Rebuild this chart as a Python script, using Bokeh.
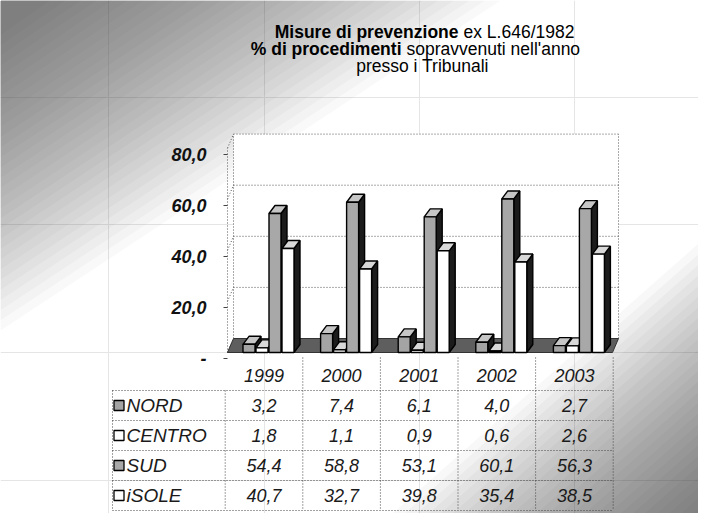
from bokeh.plotting import figure
from bokeh.models import Range1d, LinearAxis, FixedTicker, CustomJSTickFormatter
from bokeh.core.properties import value
from bokeh.embed import file_html
from bokeh.resources import INLINE

# ---------------- data ----------------
YEARS = ["1999", "2000", "2001", "2002", "2003"]
SERIES = ["NORD", "CENTRO", "SUD", "iSOLE"]
NORD = [3.2, 7.4, 6.1, 4.0, 2.7]
CENTRO = [1.8, 1.1, 0.9, 0.6, 2.6]
SUD = [54.4, 58.8, 53.1, 60.1, 56.3]
ISOLE = [40.7, 32.7, 39.8, 35.4, 38.5]
Y_TICKS = [0, 20, 40, 60, 80]
TITLE_BOLD = ["Misure di prevenzione", "% di procedimenti"]
TITLE_NORMAL = ["ex L.646/1982", "sopravvenuti nell'anno"]
TITLE_LAST = "presso i Tribunali"

SERIES_VALUES = [NORD, CENTRO, SUD, ISOLE]

# ---------------- styling / layout ----------------
FONT = "Liberation Sans"
FRONT_COLORS = ["#a4a4a4", "#ffffff", "#a8a8a8", "#ffffff"]
TOP_COLORS = ["#c6c6c6", "#d8d8d8", "#c6c6c6", "#d8d8d8"]
SIDE_COLOR = "#1c1c1c"

W, H = 698, 513
PAGE = 0
COL_PX = 77.6
COL0 = 263.5
ZERO_PX = 352.0
UNIT_PX = 2.555

X_START = (PAGE - COL0) / COL_PX
X_END = X_START + W / COL_PX
Y_END = (ZERO_PX - PAGE) / UNIT_PX
Y_START = Y_END - H / UNIT_PX

LAB_ZERO, LAB_UNIT = 358.0, 2.55
LAB_END = (LAB_ZERO - PAGE) / LAB_UNIT
LAB_START = LAB_END - H / LAB_UNIT

ROW0, ROW_PX = 375.0, 30.0
TBL_END = (ROW0 - PAGE) / ROW_PX
TBL_START = TBL_END - H / ROW_PX


def dx(px):
    return (px - COL0) / COL_PX


def dy(py):
    return (ZERO_PX - py) / UNIT_PX


def trow(py):
    return (ROW0 - py) / ROW_PX


BAR_OFF = [-15 / COL_PX, -2 / COL_PX, 11 / COL_PX, 24 / COL_PX]
BAR_W = 12 / COL_PX
BAR_DX = 6 / COL_PX
BAR_DY = 8 / UNIT_PX
FLOOR_L, FLOOR_R = dx(227), dx(612)
DEPTH_X, DEPTH_Y = 6 / COL_PX, 14 / UNIT_PX
Y_MAX = Y_TICKS[-1]
TXT = "18px"

p = figure(width=W, height=H, x_range=Range1d(X_START, X_END),
           y_range=Range1d(Y_START, Y_END), output_backend="svg",
           toolbar_location=None, tools="", x_axis_location=None,
           y_axis_location=None, min_border=0, outline_line_color=None,
           background_fill_color="white", border_fill_color="white")
p.extra_y_ranges = {"lab": Range1d(LAB_START, LAB_END),
                    "tbl": Range1d(TBL_START, TBL_END)}

# ---------------- background gradient (scan shading) ----------------
NL = 30
tl = [(50 + (500 - 50) * i / (NL - 1), 35 + (330 - 35) * i / (NL - 1)) for i in range(NL)]
p.patches([[dx(0), dx(a), dx(0)] for a, b in tl], [[dy(0), dy(0), dy(b)] for a, b in tl],
          fill_color="#303030", fill_alpha=0.032, line_color=None)
NB = 26
br = [(40 + (340 - 40) * i / (NB - 1), 35 + (300 - 35) * i / (NB - 1)) for i in range(NB)]
p.patches([[dx(714), dx(714), dx(714 - a)] for a, b in br],
          [[dy(529), dy(529 - b), dy(529)] for a, b in br],
          fill_color="#303030", fill_alpha=0.035, line_color=None)

# ---------------- 3D walls / floor ----------------
p.quad(left=[FLOOR_L + DEPTH_X], right=[FLOOR_R + DEPTH_X], bottom=[DEPTH_Y],
       top=[Y_MAX + DEPTH_Y], fill_color="white", line_color=None)
grid_t = Y_TICKS[1:]
p.segment(x0=[FLOOR_L + DEPTH_X] * len(grid_t), x1=[FLOOR_R + DEPTH_X] * len(grid_t),
          y0=[t + DEPTH_Y for t in grid_t], y1=[t + DEPTH_Y for t in grid_t],
          line_color="#555555", line_dash="1 2", line_width=1)
p.segment(x0=[FLOOR_L] * len(Y_TICKS), x1=[FLOOR_L + DEPTH_X] * len(Y_TICKS),
          y0=Y_TICKS, y1=[t + DEPTH_Y for t in Y_TICKS],
          line_color="#555555", line_dash="1 2", line_width=1)
p.segment(x0=[FLOOR_L + DEPTH_X, FLOOR_R + DEPTH_X, FLOOR_L],
          x1=[FLOOR_L + DEPTH_X, FLOOR_R + DEPTH_X, FLOOR_L],
          y0=[DEPTH_Y, DEPTH_Y, 0], y1=[Y_MAX + DEPTH_Y, Y_MAX + DEPTH_Y, Y_MAX],
          line_color="#555555", line_dash="1 2", line_width=1)
p.patch([FLOOR_L, FLOOR_R, FLOOR_R + DEPTH_X, FLOOR_L + DEPTH_X],
        [0, 0, DEPTH_Y, DEPTH_Y], fill_color="#5e5e5e", line_color="#333333", line_width=1)

# ---------------- 3D bars ----------------
for k, vals in enumerate(SERIES_VALUES):
    xl = [i + BAR_OFF[k] - BAR_W / 2 for i in range(len(YEARS))]
    xr = [x + BAR_W for x in xl]
    side_x = [[r, r + BAR_DX, r + BAR_DX, r] for r in xr]
    side_y = [[0, BAR_DY, v + BAR_DY, v] for v in vals]
    top_x = [[l, r, r + BAR_DX, l + BAR_DX] for l, r in zip(xl, xr)]
    top_y = [[v, v, v + BAR_DY, v + BAR_DY] for v in vals]
    p.patches(side_x, side_y, fill_color=SIDE_COLOR, line_color="black", line_width=1.4)
    p.patches(top_x, top_y, fill_color=TOP_COLORS[k], line_color="black", line_width=1.4)
    p.quad(left=xl, right=xr, bottom=[0] * len(vals), top=vals,
           fill_color=FRONT_COLORS[k], line_color="black", line_width=1.4)

# ---------------- value axis ----------------
ax = LinearAxis(y_range_name="lab", ticker=FixedTicker(ticks=Y_TICKS),
                formatter=CustomJSTickFormatter(
                    code="return tick == 0 ? '-' : tick.toFixed(1).replace('.', ',');"),
                fixed_location=FLOOR_L)
ax.axis_line_color = None
ax.major_tick_out = 4
ax.major_tick_in = 0
ax.minor_tick_out = 0
ax.minor_tick_in = 0
ax.major_tick_line_color = "#444444"
ax.major_label_standoff = 17
ax.major_label_text_font = FONT
ax.major_label_text_font_size = TXT
ax.major_label_text_font_style = "bold italic"
ax.major_label_text_color = "#111111"
p.add_layout(ax, "left")

# ---------------- data table ----------------
n = len(YEARS)
nrows = len(SERIES)
tbl_left = dx(112)
hy = [-(r + 0.5) for r in range(nrows + 1)]
p.segment(x0=[tbl_left] * len(hy), x1=[n - 0.5] * len(hy), y0=hy, y1=hy,
          y_range_name="tbl", line_color="#444444", line_dash="1 2", line_width=1)
vx = [tbl_left, -0.5]
p.segment(x0=vx, x1=vx, y0=[-0.5] * 2, y1=[-(nrows + 0.5)] * 2,
          y_range_name="tbl", line_color="#444444", line_dash="1 2", line_width=1)
vx2 = [i + 0.5 for i in range(n)]
p.segment(x0=vx2, x1=vx2, y0=[trow(357)] * n, y1=[-(nrows + 0.5)] * n,
          y_range_name="tbl", line_color="#444444", line_dash="1 2", line_width=1)

p.text(x=list(range(n)), y=[0] * n, text=YEARS, y_range_name="tbl",
       text_font=value(FONT), text_font_size=TXT, text_font_style="italic",
       text_align="center", text_baseline="middle", text_color="#1a1a1a")
for k, vals in enumerate(SERIES_VALUES):
    row = -(k + 1)
    p.text(x=list(range(n)), y=[row] * n,
           text=[f"{v:.1f}".replace(".", ",") for v in vals], y_range_name="tbl",
           text_font=value(FONT), text_font_size=TXT, text_font_style="italic",
           text_align="center", text_baseline="middle", text_color="#1a1a1a")
p.text(x=[dx(126)] * nrows, y=[-(k + 1) for k in range(nrows)], text=SERIES,
       y_range_name="tbl", text_font=value(FONT), text_font_size="19px",
       text_font_style="italic", text_align="left", text_baseline="middle",
       text_color="#1a1a1a")
p.scatter(x=[dx(118.5)] * nrows, y=[-(k + 1) for k in range(nrows)], marker="square",
          size=10, fill_color=FRONT_COLORS, line_color="black", line_width=1.3,
          y_range_name="tbl")

# ---------------- title ----------------
TS = "17.5px"
p.text(x=[dx(458), dx(401)], y=[dy(31), dy(48)], text=TITLE_BOLD,
       text_font=value(FONT), text_font_size=TS, text_font_style="bold",
       text_align="right", text_baseline="middle", text_color="black")
p.text(x=[dx(463), dx(406)], y=[dy(31), dy(48)], text=TITLE_NORMAL,
       text_font=value(FONT), text_font_size=TS, text_font_style="normal",
       text_align="left", text_baseline="middle", text_color="black")
p.text(x=[dx(422)], y=[dy(65)], text=[TITLE_LAST],
       text_font=value(FONT), text_font_size=TS, text_font_style="normal",
       text_align="center", text_baseline="middle", text_color="black")

open("out.html", "w").write(file_html(p, INLINE))
